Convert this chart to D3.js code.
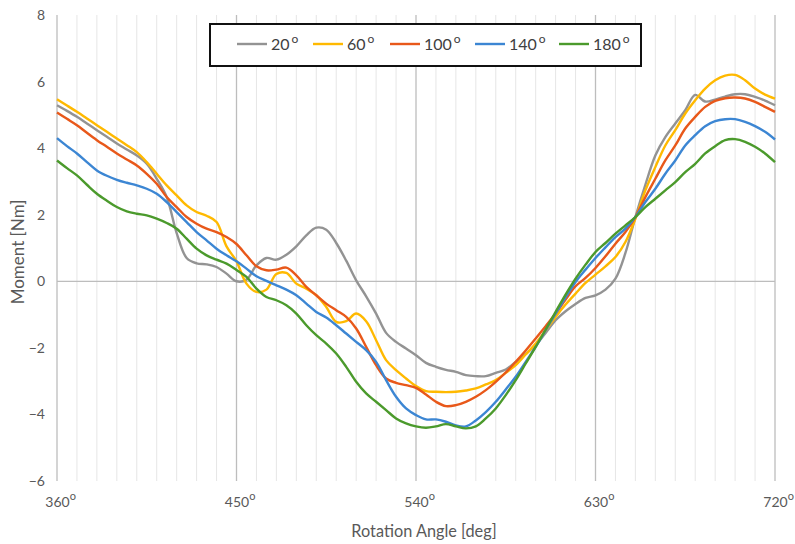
<!DOCTYPE html>
<html>
<head>
<meta charset="utf-8">
<script src="https://cdn.jsdelivr.net/npm/d3@7"></script>
<style>
  html, body { margin: 0; padding: 0; background: #fff; }
  svg { display: block; font-family: Lato, "Noto Sans", sans-serif; }
</style>
</head>
<body>
<svg id="chart" width="795" height="544"></svg>
<script>
// Crank angle samples (deg), every 5 degrees
const angles = d3.range(360, 721, 5);

// Moment [Nm] per series
const s20 = [5.29,5.12,4.94,4.74,4.54,4.34,4.14,3.96,3.78,3.53,3.08,2.53,1.45,0.70,0.54,0.51,0.43,0.23,0.00,0.05,
  0.48,0.70,0.65,0.80,1.05,1.38,1.61,1.55,1.15,0.62,0.03,-0.45,-0.97,-1.55,-1.82,-2.02,-2.22,-2.45,-2.57,-2.66,
  -2.72,-2.82,-2.85,-2.85,-2.75,-2.65,-2.42,-2.18,-1.92,-1.55,-1.17,-0.90,-0.68,-0.50,-0.42,-0.25,0.08,0.85,1.93,2.90,
  3.78,4.33,4.74,5.14,5.60,5.40,5.46,5.55,5.62,5.62,5.54,5.43,5.29];
const s60 = [5.47,5.28,5.09,4.89,4.69,4.49,4.29,4.09,3.88,3.58,3.23,2.88,2.58,2.28,2.08,1.97,1.78,1.05,0.60,-0.07,
  -0.32,-0.25,0.22,0.25,-0.07,-0.22,-0.42,-0.77,-1.22,-1.20,-0.97,-1.20,-1.77,-2.37,-2.67,-2.92,-3.15,-3.30,-3.32,-3.33,
  -3.32,-3.28,-3.22,-3.10,-2.97,-2.75,-2.52,-2.20,-1.87,-1.47,-1.07,-0.70,-0.37,-0.05,0.20,0.45,0.73,1.18,1.88,2.73,
  3.43,4.08,4.54,5.04,5.44,5.79,6.04,6.18,6.20,6.04,5.79,5.61,5.49];
const s100 = [5.07,4.88,4.69,4.46,4.24,4.04,3.84,3.66,3.48,3.23,2.93,2.53,2.23,1.93,1.73,1.58,1.48,1.33,1.12,0.78,
  0.45,0.33,0.35,0.41,0.18,-0.17,-0.42,-0.67,-0.87,-1.07,-1.42,-1.97,-2.52,-2.92,-3.05,-3.12,-3.20,-3.40,-3.62,-3.75,
  -3.72,-3.62,-3.47,-3.27,-3.02,-2.74,-2.42,-2.08,-1.72,-1.35,-0.97,-0.55,-0.15,0.10,0.40,0.75,1.13,1.48,1.93,2.53,
  3.08,3.63,4.08,4.59,4.94,5.24,5.42,5.50,5.52,5.49,5.39,5.24,5.09];
const s140 = [4.30,4.06,3.84,3.58,3.33,3.17,3.05,2.96,2.88,2.78,2.63,2.38,2.08,1.78,1.48,1.23,0.98,0.78,0.60,0.38,
  0.15,0.01,-0.12,-0.25,-0.42,-0.67,-0.92,-1.09,-1.32,-1.57,-1.82,-2.07,-2.42,-2.97,-3.47,-3.82,-4.02,-4.15,-4.15,-4.22,
  -4.33,-4.36,-4.18,-3.93,-3.62,-3.25,-2.87,-2.42,-1.97,-1.47,-0.97,-0.48,-0.02,0.35,0.70,1.02,1.33,1.58,1.93,2.38,
  2.78,3.23,3.63,4.08,4.39,4.66,4.81,4.87,4.87,4.79,4.66,4.49,4.26];
const s180 = [3.63,3.40,3.18,2.90,2.63,2.42,2.23,2.10,2.03,1.98,1.88,1.75,1.58,1.28,0.98,0.78,0.65,0.53,0.34,0.13,
  -0.22,-0.47,-0.57,-0.72,-0.97,-1.32,-1.62,-1.87,-2.17,-2.57,-3.02,-3.37,-3.62,-3.87,-4.12,-4.27,-4.36,-4.40,-4.36,-4.29,
  -4.36,-4.42,-4.36,-4.12,-3.82,-3.42,-2.97,-2.47,-1.97,-1.45,-0.92,-0.40,0.08,0.50,0.88,1.15,1.43,1.68,1.93,2.23,
  2.48,2.73,2.98,3.28,3.53,3.84,4.06,4.24,4.27,4.19,4.04,3.84,3.58];

const seriesNames = ["20", "60", "100", "140", "180"];
const seriesValues = [s20, s60, s100, s140, s180];
const seriesColors = ["#939393", "#FFB900", "#E8581A", "#3C86D3", "#4B9A2C"];

const xTicks = [360, 450, 540, 630, 720];
const yTicks = [-6, -4, -2, 0, 2, 4, 6, 8];

const svg = d3.select("#chart");
const x = d3.scaleLinear().domain([360, 720]).range([57, 775]);
const y = d3.scaleLinear().domain([-6, 8]).range([481, 15]);

// Vertical grid: minor every 10 deg, major every 90 deg
const grid = svg.append("g");
grid.selectAll("line.minor")
  .data(d3.range(370, 720, 10).filter(d => d % 90 !== 0))
  .join("line")
  .attr("x1", d => x(d)).attr("x2", d => x(d))
  .attr("y1", y(8)).attr("y2", y(-6))
  .attr("stroke", "#e6e6e6").attr("stroke-width", 1);
grid.selectAll("line.major")
  .data(xTicks)
  .join("line")
  .attr("x1", d => x(d)).attr("x2", d => x(d))
  .attr("y1", y(8)).attr("y2", y(-6))
  .attr("stroke", "#bdbdbd").attr("stroke-width", 1.3);
// Zero line
grid.append("line")
  .attr("x1", x(360)).attr("x2", x(720))
  .attr("y1", y(0)).attr("y2", y(0))
  .attr("stroke", "#bdbdbd").attr("stroke-width", 1.3);

// Y axis labels
const yAxis = svg.append("g")
  .attr("transform", `translate(${x(360) - 12},0)`)
  .call(d3.axisLeft(y).tickValues(yTicks).tickSize(0).tickPadding(0));
yAxis.select(".domain").remove();
yAxis.selectAll("text")
  .attr("font-family", "Lato, 'Noto Sans', sans-serif")
  .attr("font-size", 14).attr("fill", "#595959");

// X axis labels with degree superscript
const xAxis = svg.append("g")
  .attr("transform", `translate(0,${y(-6)})`)
  .call(d3.axisBottom(x).tickValues(xTicks).tickSize(0).tickPadding(16).tickFormat(""));
xAxis.select(".domain").remove();
xAxis.selectAll(".tick text").each(function(d) {
  const t = d3.select(this)
    .attr("font-family", "Lato, 'Noto Sans', sans-serif")
    .attr("font-size", 14).attr("fill", "#595959")
    .attr("text-anchor", "start");
  t.text(null);
  const num = t.append("tspan").text(d);
  t.append("tspan").attr("font-size", 11).attr("dy", -7).text("o");
  const w = num.node().getComputedTextLength();
  t.attr("x", -w / 2);
});

// Series lines
const line = d3.line()
  .x((d, i) => x(angles[i]))
  .y(d => y(d))
  .curve(d3.curveCatmullRom.alpha(0.5));
svg.append("g")
  .selectAll("path")
  .data(seriesValues)
  .join("path")
  .attr("d", d => line(d))
  .attr("fill", "none")
  .attr("stroke", (d, i) => seriesColors[i])
  .attr("stroke-width", 2.4)
  .attr("stroke-linejoin", "round");

// Axis titles
svg.append("text")
  .attr("x", 424).attr("y", 537)
  .attr("text-anchor", "middle")
  .attr("font-size", 16.3).attr("fill", "#595959")
  .text("Rotation Angle [deg]");
svg.append("text")
  .attr("transform", `translate(24,${(y(8) + y(-6)) / 2 + 4}) rotate(-90)`)
  .attr("text-anchor", "middle")
  .attr("font-size", 17).attr("fill", "#595959")
  .text("Moment [Nm]");

// Legend
const legend = svg.append("g");
legend.append("rect")
  .attr("x", 210).attr("y", 24).attr("width", 431).attr("height", 42)
  .attr("fill", "#fff").attr("stroke", "#111").attr("stroke-width", 2);
const legendX = [237, 313, 390, 475, 559];
const entries = legend.selectAll("g.entry")
  .data(seriesNames)
  .join("g")
  .attr("transform", (d, i) => `translate(${legendX[i]},44)`);
entries.append("line")
  .attr("x1", 0).attr("x2", 30).attr("y1", 0).attr("y2", 0)
  .attr("stroke", (d, i) => seriesColors[i]).attr("stroke-width", 2.4);
const lt = entries.append("text")
  .attr("x", 34).attr("y", 6)
  .attr("font-size", 16).attr("fill", "#404040");
lt.append("tspan").text(d => d);
lt.append("tspan").attr("dx", 2).attr("dy", -7).attr("font-size", 12).text("o");
</script>
</body>
</html>
